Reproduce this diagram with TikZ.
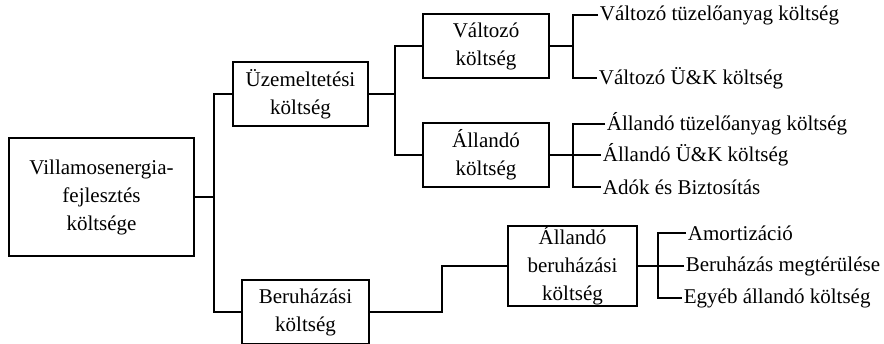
\documentclass[tikz,border=0pt]{standalone}
\usepackage{fontspec}
\setmainfont{Liberation Serif}
\usetikzlibrary{positioning}
\begin{document}
\begin{tikzpicture}[x=1pt,y=-1pt,line width=1.8pt,
  every node/.style={font=\fontsize{21}{28}\selectfont}
]

\tikzstyle{box}=[draw,align=center,inner sep=0pt,line width=1.8pt]
\tikzstyle{leaf}=[anchor=west,inner sep=1pt]

\useasboundingbox (0,0) rectangle (884,344);

% boxes
\node [box,minimum width=185pt,minimum height=118pt] (root) at (101.5,197) {Villamosenergia-\\fejlesztés\\költsége};
\node [box,minimum width=135pt,minimum height=64pt] (uzem) at (300.5,94) {Üzemeltetési\\költség};
\node [box,minimum width=127pt,minimum height=64pt] (beru) at (305.5,312) {Beruházási\\költség};
\node [box,minimum width=126pt,minimum height=64pt] (valt) at (486,46) {Változó\\költség};
\node [box,minimum width=126pt,minimum height=64pt] (alla) at (486,155) {Állandó\\költség};
\node [box,minimum width=129pt,minimum height=80pt] (allb) at (572.5,266) {Állandó\\beruházási\\költség};

% leaves
\node [leaf] (vt1) at (598,15) {Változó tüzelőanyag költség};
\node [leaf] (vt2) at (597,78) {Változó Ü\&K költség};
\node [leaf] (at1) at (605,124) {Állandó tüzelőanyag költség};
\node [leaf] (at2) at (601,155) {Állandó Ü\&K költség};
\node [leaf] (at3) at (601,187) {Adók és Biztosítás};
\node [leaf] (bt1) at (686,233) {Amortizáció};
\node [leaf] (bt2) at (684,266) {Beruházás megtérülése};
\node [leaf] (bt3) at (682,298) {Egyéb állandó költség};

% buses
\coordinate (r1) at (214,197);
\coordinate (u1) at (395,94);
\coordinate (v1) at (573,46);
\coordinate (a1) at (573,155);
\coordinate (k1) at (442,312);
\coordinate (s1) at (658,266);

% connectors
\draw (root.east) -- (r1);
\draw (uzem.west) -| (r1) |- (beru.west);
\draw (uzem.east) -- (u1);
\draw (valt.west) -| (u1) |- (alla.west);
\draw (valt.east) -- (v1);
\draw (vt1.west) -| (v1) |- (vt2.west);
\draw (alla.east) -- (a1);
\draw (at1.west) -| (a1) |- (at3.west);
\draw (at2.west) -- (a1);
\draw (beru.east) -- (k1) |- (allb.west);
\draw (allb.east) -- (s1);
\draw (bt1.west) -| (s1) |- (bt3.west);
\draw (bt2.west) -- (s1);
\end{tikzpicture}
\end{document}
